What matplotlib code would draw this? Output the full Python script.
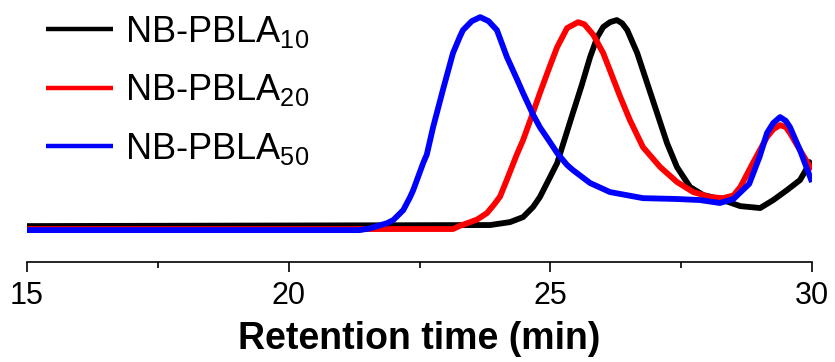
import matplotlib
matplotlib.use("Agg")
import matplotlib.pyplot as plt
from matplotlib.ticker import MultipleLocator

# ======================
# DATA
# ======================
t_10 = [15.0, 23.85, 24.23, 24.48, 24.67, 24.80, 24.99, 25.13, 25.43, 25.6,
        25.76, 25.9, 26.01, 26.14, 26.27, 26.37, 26.47, 26.66, 26.85, 27.04,
        27.23, 27.42, 27.67, 27.92, 28.24, 28.63, 29.01, 29.26, 29.52, 29.77,
        29.96, 30.0]
y_10 = [0.019, 0.024, 0.038, 0.062, 0.11, 0.157, 0.25, 0.319, 0.557, 0.69,
        0.824, 0.92, 0.967, 0.99, 1.0, 0.985, 0.952, 0.843, 0.70, 0.557,
        0.414, 0.30, 0.205, 0.167, 0.148, 0.114, 0.105, 0.143, 0.19, 0.238,
        0.319, 0.33]

t_20 = [15.0, 23.14, 23.27, 23.47, 23.6, 23.79, 23.92, 24.04, 24.17, 24.36,
        24.48, 24.67, 24.80, 24.99, 25.13, 25.32, 25.53, 25.65, 25.82, 26.01,
        26.14, 26.33, 26.52, 26.77, 27.10, 27.42, 27.73, 28.05, 28.30, 28.5,
        28.63, 28.87, 29.14, 29.26, 29.39, 29.5, 29.58, 29.77, 30.0]
y_20 = [0.005, 0.005, 0.02, 0.038, 0.05, 0.081, 0.12, 0.16, 0.24, 0.36,
        0.429, 0.56, 0.652, 0.78, 0.871, 0.962, 0.99, 0.98, 0.93, 0.843,
        0.76, 0.638, 0.524, 0.395, 0.30, 0.229, 0.181, 0.157, 0.152, 0.165,
        0.205, 0.319, 0.443, 0.48, 0.50, 0.49, 0.462, 0.381, 0.286]

t_50 = [15.0, 21.36, 21.55, 21.88, 22.0, 22.19, 22.32, 22.38, 22.57, 22.64,
        22.76, 22.95, 23.14, 23.27, 23.33, 23.5, 23.66, 23.82, 23.98, 24.17,
        24.36, 24.48, 24.67, 24.80, 24.99, 25.13, 25.32, 25.43, 25.76, 26.14,
        26.77, 27.42, 27.86, 28.24, 28.5, 28.8, 29.0, 29.14, 29.26, 29.39,
        29.5, 29.58, 29.77, 30.0]
y_50 = [0.0, 0.0, 0.008, 0.033, 0.048, 0.095, 0.157, 0.19, 0.319, 0.36,
        0.49, 0.67, 0.843, 0.92, 0.952, 0.995, 1.014, 0.995, 0.952, 0.824,
        0.72, 0.652, 0.55, 0.49, 0.42, 0.367, 0.31, 0.286, 0.224, 0.181,
        0.152, 0.148, 0.143, 0.129, 0.148, 0.22, 0.35, 0.462, 0.51, 0.538,
        0.52, 0.49, 0.381, 0.229]

series = [
    (t_10, y_10, "black", "NB-PBLA$_{10}$"),
    (t_20, y_20, "red", "NB-PBLA$_{20}$"),
    (t_50, y_50, "blue", "NB-PBLA$_{50}$"),
]

# ======================
# STYLE
# ======================
plt.rcParams["font.family"] = ["Liberation Sans", "DejaVu Sans"]
plt.rcParams["mathtext.fontset"] = "custom"
plt.rcParams["mathtext.rm"] = "Liberation Sans"
plt.rcParams["mathtext.it"] = "Liberation Sans"

fig = plt.figure(figsize=(8.35, 3.62), dpi=100)
ax = fig.add_axes([27 / 835, 100 / 362, 785 / 835, 252 / 362])

for t, y, color, label in series:
    ax.plot(t, y, color=color, lw=4.2, label=label,
            solid_joinstyle="round", solid_capstyle="butt")

ax.set_xlim(15, 30)
ax.set_ylim(-0.152, 1.048)

for side in ["left", "right", "top"]:
    ax.spines[side].set_visible(False)
ax.spines["bottom"].set_linewidth(1.2)
ax.set_yticks([])

ax.xaxis.set_major_locator(MultipleLocator(5))
ax.xaxis.set_minor_locator(MultipleLocator(2.5))
ax.tick_params(axis="x", which="major", direction="out", length=7, width=1.2,
               pad=7, labelsize=22)
ax.tick_params(axis="x", which="minor", direction="out", length=4.5, width=1.2)

ax.set_xlabel("Retention time (min)", fontsize=27, fontweight="bold", labelpad=7)

leg = ax.legend(loc="upper left", bbox_to_anchor=(44 / 835, 1 - 12 / 362),
                bbox_transform=fig.transFigure, frameon=False, fontsize=26,
                handlelength=1.86, handletextpad=0.33, labelspacing=0.62,
                borderaxespad=0, borderpad=0.05)
for line in leg.get_lines():
    line.set_linewidth(3.2)

plt.savefig("out.png", dpi=100)
plt.close()
